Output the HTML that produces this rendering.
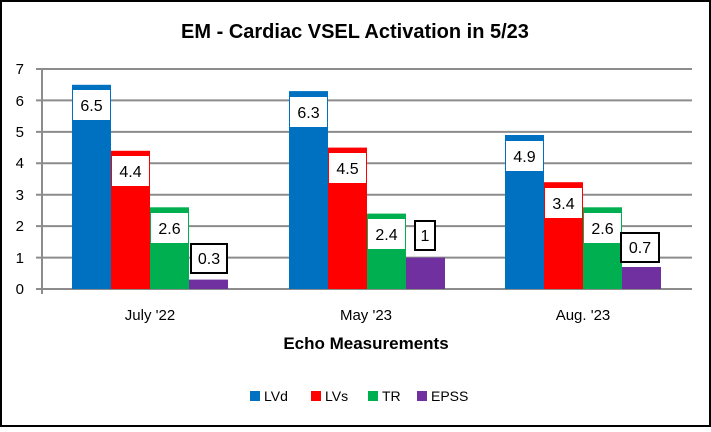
<!DOCTYPE html>
<html><head><style>body{margin:0;background:#fff}</style></head><body>
<svg width="711" height="427" xmlns="http://www.w3.org/2000/svg" font-family="Liberation Sans, sans-serif">
<rect x="1" y="1" width="709" height="425" fill="#fff" stroke="#000" stroke-width="2"/>
<text x="355" y="38" font-size="20" font-weight="bold" text-anchor="middle">EM - Cardiac VSEL Activation in 5/23</text>
<g stroke="#8c8c8c" stroke-width="2">
<line x1="36" x2="692" y1="69" y2="69"/><line x1="36" x2="692" y1="100.4" y2="100.4"/>
<line x1="36" x2="692" y1="131.9" y2="131.9"/><line x1="36" x2="692" y1="163.3" y2="163.3"/>
<line x1="36" x2="692" y1="194.7" y2="194.7"/><line x1="36" x2="692" y1="226.1" y2="226.1"/>
<line x1="36" x2="692" y1="257.6" y2="257.6"/><line x1="36" x2="692" y1="289" y2="289"/>
<line x1="42" x2="42" y1="69" y2="294"/>
</g>
<g font-size="15" fill="#000" text-anchor="end">
<text x="24" y="74">7</text><text x="24" y="106">6</text><text x="24" y="137">5</text><text x="24" y="168">4</text><text x="24" y="200">3</text><text x="24" y="231">2</text><text x="24" y="263">1</text><text x="24" y="294">0</text>
</g>
<rect x="72" y="84.8" width="39" height="204.2" fill="#0070c0"/>
<rect x="111" y="150.8" width="39" height="138.2" fill="#ff0000"/>
<rect x="150" y="207.3" width="39" height="81.7" fill="#00b050"/>
<rect x="189" y="279.6" width="39" height="9.4" fill="#7030a0"/>
<rect x="289" y="91.1" width="39" height="197.9" fill="#0070c0"/>
<rect x="328" y="147.6" width="39" height="141.4" fill="#ff0000"/>
<rect x="367" y="213.6" width="39" height="75.4" fill="#00b050"/>
<rect x="406" y="257.6" width="39" height="31.4" fill="#7030a0"/>
<rect x="505" y="135" width="39" height="154" fill="#0070c0"/>
<rect x="544" y="182.2" width="39" height="106.8" fill="#ff0000"/>
<rect x="583" y="207.3" width="39" height="81.7" fill="#00b050"/>
<rect x="622" y="267" width="39" height="22" fill="#7030a0"/>
<g fill="#fff">
<rect x="73" y="90" width="37" height="30"/><rect x="112" y="156" width="37" height="30"/><rect x="151" y="213" width="37" height="30"/>
<rect x="290" y="97" width="37" height="30"/><rect x="329" y="153" width="37" height="30"/><rect x="368" y="219" width="37" height="30"/>
<rect x="506" y="141" width="37" height="30"/><rect x="545" y="188" width="37" height="30"/><rect x="584" y="213" width="37" height="30"/>
</g>
<g fill="#fff" stroke="#000" stroke-width="2">
<rect x="191" y="244" width="36" height="29"/>
<rect x="415" y="221" width="20" height="29"/>
<rect x="621" y="233" width="38" height="29"/>
</g>
<g font-size="16" text-anchor="middle" fill="#000">
<text x="91.5" y="111">6.5</text><text x="130.5" y="177">4.4</text><text x="169.5" y="234">2.6</text><text x="209" y="264">0.3</text>
<text x="308.5" y="118">6.3</text><text x="347.5" y="174">4.5</text><text x="386.5" y="240">2.4</text><text x="425" y="241">1</text>
<text x="524.5" y="162">4.9</text><text x="563.5" y="209">3.4</text><text x="602.5" y="234">2.6</text><text x="640" y="253">0.7</text>
</g>
<g font-size="15" text-anchor="middle" fill="#000">
<text x="150" y="320">July '22</text><text x="366" y="320">May '23</text><text x="583" y="320">Aug. '23</text>
</g>
<text x="366" y="349" font-size="17" font-weight="bold" text-anchor="middle">Echo Measurements</text>
<g font-size="14" fill="#000">
<rect x="250" y="391" width="10" height="10" fill="#0070c0"/><text x="264" y="401">LVd</text>
<rect x="311" y="391" width="10" height="10" fill="#ff0000"/><text x="325" y="401">LVs</text>
<rect x="368" y="391" width="10" height="10" fill="#00b050"/><text x="382" y="401">TR</text>
<rect x="417" y="391" width="10" height="10" fill="#7030a0"/><text x="431" y="401">EPSS</text>
</g>
</svg>
</body></html>
